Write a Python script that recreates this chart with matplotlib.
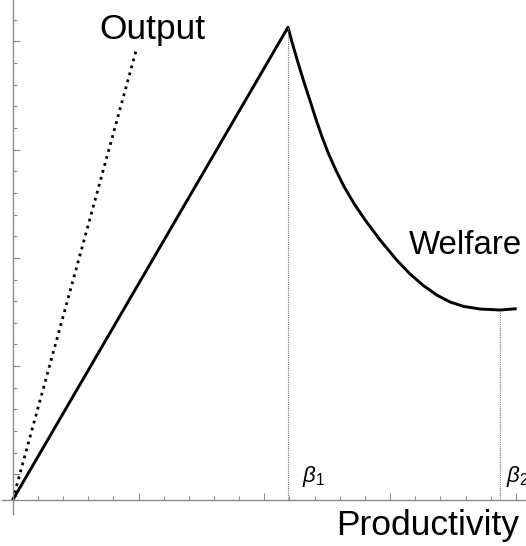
import numpy as np
import matplotlib
matplotlib.use("Agg")
import matplotlib.pyplot as plt

plt.rcParams["mathtext.fontset"] = "custom"
plt.rcParams["mathtext.it"] = "Liberation Sans:italic"
plt.rcParams["mathtext.rm"] = "Liberation Sans"

# ---- data ----
# Welfare: rising linear part then convex decline
welfare_x = [0.0, 2.188, 2.220, 2.252, 2.284, 2.324, 2.364, 2.407, 2.459, 2.509,
             2.570, 2.634, 2.713, 2.801, 2.920, 3.052, 3.158, 3.264, 3.370,
             3.476, 3.582, 3.715, 3.873, 4.006]
welfare_y = [0.0, 4.369, 4.233, 4.104, 3.979, 3.831, 3.688, 3.531, 3.355, 3.204,
             3.045, 2.896, 2.740, 2.588, 2.403, 2.218, 2.089, 1.982, 1.895,
             1.830, 1.790, 1.765, 1.756, 1.768]
# Output: straight dotted line from origin
output_x = [0.0, 0.987]
output_y = [0.0, 4.18]
# thresholds
beta1 = 2.188
beta1_top = 4.369
beta2 = 3.873
beta2_top = 1.756

labels = {"output": "Output", "welfare": "Welfare", "xlabel": "Productivity",
          "b1": r"$\beta_1$", "b2": r"$\beta_2$"}

W, H = 526, 546
fig = plt.figure(figsize=(W / 100, H / 100), dpi=100)
ax = fig.add_axes([0, 0, 1, 1])
ax.set_xlim(-0.101, 4.080)
ax.set_ylim(-0.425, 4.621)
ax.patch.set_alpha(0)

axis_col = "#8a8a8a"
for s in ["top", "right"]:
    ax.spines[s].set_visible(False)
ax.spines["left"].set_position(("data", 0))
ax.spines["bottom"].set_position(("data", 0))
ax.spines["left"].set_bounds(-0.13, 4.621)
ax.spines["bottom"].set_bounds(-0.085, 4.080)
for s in ["left", "bottom"]:
    ax.spines[s].set_color(axis_col)
    ax.spines[s].set_linewidth(1.0)

ax.set_xticks([1, 2, 3, 4])
ax.set_xticks(np.arange(0.2, 4.05, 0.2), minor=True)
ax.set_yticks(0.2375 + np.arange(0, 5))
ax.set_yticks(0.0375 + 0.2 * np.arange(0, 23), minor=True)
ax.tick_params(which="both", direction="in", colors=axis_col, labelbottom=False,
               labelleft=False, width=0.8)
ax.tick_params(which="major", length=5.0)
ax.tick_params(which="minor", length=2.8)

ax.plot(welfare_x, welfare_y, color="black", lw=2.1, solid_joinstyle="round",
        solid_capstyle="butt")
ax.plot(output_x, output_y, color="black", lw=2.0, linestyle=(0, (1, 1.6)))

ax.plot([beta1, beta1], [0, beta1_top], color="#777777", lw=0.8, linestyle=(0, (1, 1)))
ax.plot([beta2, beta2], [0, beta2_top], color="#777777", lw=0.8, linestyle=(0, (1, 1)))

font = "Liberation Sans"
def ftext(px, py, s, **kw):
    fig.text(px / W, 1 - py / H, s, **kw)

ftext(99, 39, labels["output"], fontsize=25.5, family=font, ha="left", va="baseline")
ftext(409, 254, labels["welfare"], fontsize=23.8, family=font, ha="left", va="baseline")
ftext(336, 535, labels["xlabel"], fontsize=25.5, family=font, ha="left", va="baseline")
ftext(302, 482, labels["b1"], fontsize=16, ha="left", va="baseline")
ftext(506, 482, labels["b2"], fontsize=16, ha="left", va="baseline")

fig.savefig("out.png", dpi=100)
